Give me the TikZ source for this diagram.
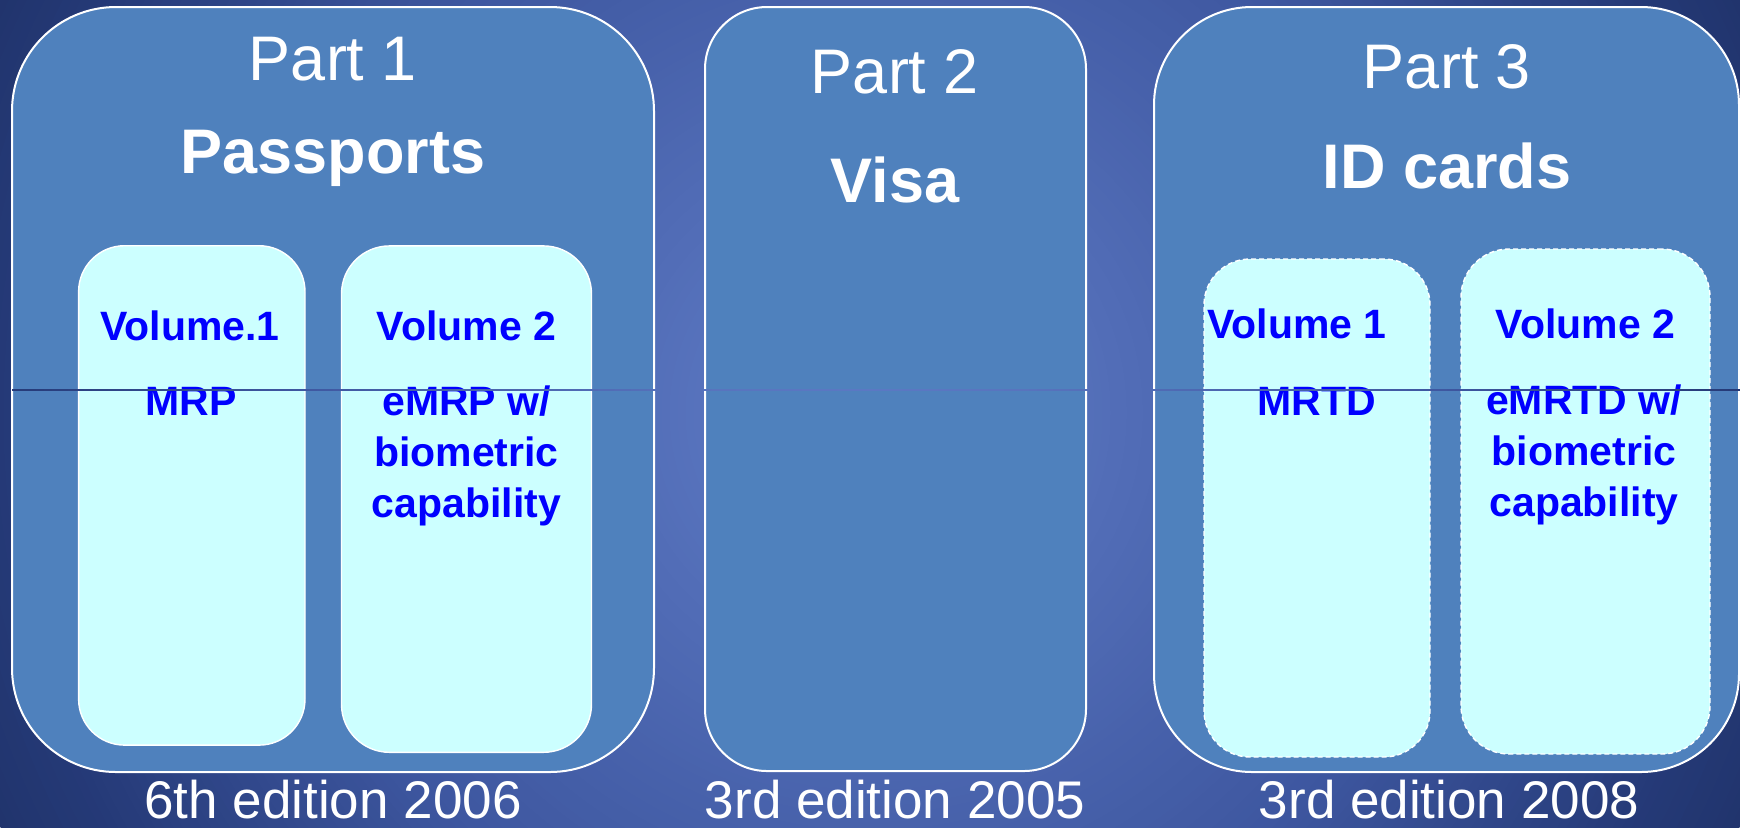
\documentclass[tikz,border=0pt]{standalone}
\usepackage{fontspec}
\setmainfont{Liberation Sans}
\definecolor{partfill}{HTML}{4F81BD}
\definecolor{volfill}{HTML}{CCFFFF}
\definecolor{voltext}{HTML}{0000FF}
\newcommand{\stacklines}[1]{\begin{tabular}[t]{@{}c@{}}#1\end{tabular}}
\newcommand{\drawbackdrop}{%
  \foreach \i in {0,...,119}{%
    \pgfmathsetmacro\ff{1-\i/120}%
    \pgfmathsetmacro\RR{(\ff<0.16 ? 91-3*\ff/0.16 : (\ff<0.6 ? 88-26*(\ff-0.16)/0.44 : (\ff<0.9 ? 62-25*(\ff-0.6)/0.3 : 37-4*(\ff-0.9)/0.1)))/255}%
    \pgfmathsetmacro\GG{(\ff<0.16 ? 121-5*\ff/0.16 : (\ff<0.6 ? 116-29*(\ff-0.16)/0.44 : (\ff<0.9 ? 87-29*(\ff-0.6)/0.3 : 58-6*(\ff-0.9)/0.1)))/255}%
    \pgfmathsetmacro\BB{(\ff<0.16 ? 196-6*\ff/0.16 : (\ff<0.6 ? 190-30*(\ff-0.16)/0.44 : (\ff<0.9 ? 160-40*(\ff-0.6)/0.3 : 120-11*(\ff-0.9)/0.1)))/255}%
    \definecolor{ringcol}{rgb}{\RR,\GG,\BB}%
    \fill[ringcol] (870,413) circle ({963*\ff});%
  }%
}
\tikzset{
  partbox/.style={draw=white, line width=1pt, fill=partfill, rectangle, inner sep=0pt},
  volbox/.style={draw=white, line width=0.7pt, fill=volfill, rectangle, inner sep=0pt},
  voldash/.style={volbox, dash pattern=on 2.5pt off 1.5pt},
  parttitle/.style={text=white, inner sep=0pt, anchor=base, font=\fontsize{31.5}{36}\selectfont},
  partname/.style={text=white, inner sep=0pt, anchor=base, font=\fontsize{31.5}{36}\selectfont\bfseries},
  voltxt/.style={text=voltext, inner sep=0pt, anchor=base, font=\fontsize{20.5}{25.5}\selectfont\bfseries},
  edtxt/.style={text=white, inner sep=0pt, anchor=base, font=\fontsize{26.5}{30}\selectfont}
}
\begin{document}
\begin{tikzpicture}[x=0.5pt, y=-0.5pt]
\useasboundingbox (0,0) rectangle (1740,827);
% background
\begin{scope}
  \clip (0,0) rectangle (1740,827);
  \fill[black!80!blue] (0,0) rectangle (1740,827);
  \drawbackdrop
\end{scope}
% part boxes
\node[partbox, rounded corners=52pt, minimum width=321pt, minimum height=382.5pt] (p1) at (333,389.5) {};
\node[partbox, rounded corners=31pt, minimum width=190.5pt, minimum height=382pt] (p2) at (895.5,389) {};
\node[partbox, rounded corners=49pt, minimum width=292.5pt, minimum height=382.5pt] (p3) at (1446.5,389.5) {};
% volume boxes
\node[volbox, rounded corners=23pt, minimum width=113.2pt, minimum height=249.7pt] (p1v1) at (191.8,495.4) {};
\node[volbox, rounded corners=24pt, minimum width=125pt, minimum height=253.2pt] (p1v2) at (466.5,499.1) {};
\node[voldash, rounded corners=23pt, minimum width=113pt, minimum height=249pt] (p3v1) at (1317,508) {};
\node[voldash, rounded corners=24pt, minimum width=124.5pt, minimum height=252.5pt] (p3v2) at (1585.5,501.5) {};
% titles
\node[parttitle] (t1) at (333,80) {Part 1};
\node[partname] (n1) at (333,173) {Passports};
\node[parttitle] (t2) at (895,93) {Part 2};
\node[partname] (n2) at (895,202) {Visa};
\node[parttitle] (t3) at (1447,88) {Part 3};
\node[partname] (n3) at (1447,188) {ID cards};
% volume texts
\node[voltxt] (p1v1a) at (190,340) {Volume.1};
\node[voltxt] (p1v1b) at (191,415) {MRP};
\node[voltxt] (p1v2a) at (466.5,340) {Volume 2};
\node[voltxt] (p1v2b) at (466.5,415) {\stacklines{eMRP w/\\biometric\\capability}};
\node[voltxt] (p3v1a) at (1297,338) {Volume 1};
\node[voltxt] (p3v1b) at (1317,415) {MRTD};
\node[voltxt] (p3v2a) at (1585.5,338) {Volume 2};
\node[voltxt] (p3v2b) at (1584,414) {\stacklines{eMRTD w/\\biometric\\capability}};
% editions
\node[edtxt] (e1) at (333,818) {6th edition 2006};
\node[edtxt] (e2) at (895,818) {3rd edition 2005};
\node[edtxt] (e3) at (1449,818) {3rd edition 2008};
% seam line showing background
\begin{scope}
  \clip (12,389.3) rectangle (1740,390.8);
  \drawbackdrop
\end{scope}
\end{tikzpicture}
\end{document}
